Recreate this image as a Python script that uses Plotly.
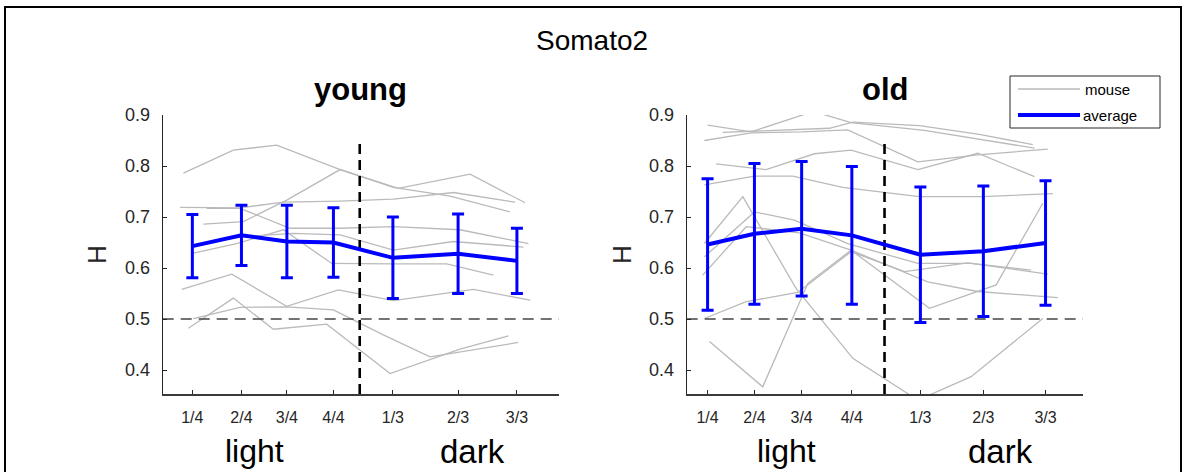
import plotly.graph_objects as go

W, H = 1186, 472

# ---------------- data ----------------
tick_labels = ["1/4", "2/4", "3/4", "4/4", "1/3", "2/3", "3/3"]
young_ticks = [1.5, 4.58, 7.43, 10.35, 14.08, 18.17, 21.86]
old_ticks = [0.95, 3.89, 6.85, 10.0, 14.3, 18.25, 22.15]
light_dark_boundary = [12.0, 12.05]

young_mean = [0.643, 0.664, 0.652, 0.650, 0.620, 0.628, 0.614]
young_err = [0.062, 0.059, 0.071, 0.068, 0.080, 0.078, 0.064]
old_mean = [0.646, 0.667, 0.677, 0.664, 0.626, 0.633, 0.649]
old_err = [0.129, 0.138, 0.132, 0.135, 0.133, 0.128, 0.122]

young_mouse_x = [
    [0.94, 4.07, 6.79, 10.77, 14.42, 18.92, 22.37],
    [2.19, 4.70, 7.42, 10.77, 14.11, 17.67, 21.43],
    [0.73, 4.49, 7.21, 10.77, 14.11, 17.88, 21.74],
    [2.40, 4.49, 7.63, 10.77, 14.11, 18.29, 22.58],
    [1.56, 4.49, 7.84, 10.77, 14.11, 17.88, 22.27],
    [1.56, 4.28, 7.21, 10.24, 13.90, 17.46, 20.38],
    [0.83, 3.97, 7.42, 10.66, 14.11, 19.13, 22.69],
    [1.25, 4.07, 6.58, 9.93, 13.90, 18.29, 21.33],
    [1.56, 4.49, 7.42, 10.35, 13.48, 16.41, 21.95],
]
young_mouse_h = [
    [0.786, 0.831, 0.841, 0.793, 0.756, 0.784, 0.728],
    [0.686, 0.691, 0.733, 0.793, 0.758, 0.741, 0.710],
    [0.719, 0.718, 0.729, 0.731, 0.735, 0.748, 0.729],
    [0.717, 0.717, 0.678, 0.678, 0.681, 0.675, 0.648],
    [0.645, 0.661, 0.668, 0.665, 0.635, 0.652, 0.641],
    [0.629, 0.648, 0.675, 0.609, 0.608, 0.608, 0.586],
    [0.558, 0.588, 0.525, 0.557, 0.536, 0.558, 0.537],
    [0.482, 0.541, 0.480, 0.490, 0.393, 0.441, 0.467],
    [0.501, 0.523, 0.524, 0.518, 0.469, 0.426, 0.454],
]

old_mouse_x = [
    [0.96, 3.68, 7.59, 9.95, 14.55, 18.53, 21.46],
    [0.75, 3.68, 6.82, 9.74, 14.14, 17.90, 22.29],
    [1.90, 5.46, 8.59, 10.06, 14.24, 18.00, 21.35],
    [1.48, 4.62, 7.65, 9.95, 14.14, 17.90, 21.46],
    [0.75, 3.89, 6.29, 9.43, 14.24, 18.21, 22.61],
    [0.75, 3.16, 6.50, 10.06, 14.14, 17.48, 21.98],
    [1.07, 4.41, 7.24, 9.95, 14.87, 19.05, 21.98],
    [0.75, 3.37, 6.61, 9.95, 13.30, 17.27, 22.29],
    [0.75, 3.89, 6.40, 9.74, 14.14, 17.48, 21.25],
    [0.65, 3.37, 6.71, 9.95, 14.76, 17.90, 22.92],
]
old_mouse_h = [
    [0.880, 0.867, 0.907, 0.885, 0.870, 0.850, 0.835],
    [0.850, 0.865, 0.867, 0.871, 0.808, 0.822, 0.833],
    [0.866, 0.870, 0.874, 0.886, 0.879, 0.862, 0.842],
    [0.804, 0.793, 0.824, 0.831, 0.793, 0.825, 0.779],
    [0.763, 0.780, 0.780, 0.758, 0.740, 0.740, 0.746],
    [0.648, 0.740, 0.560, 0.423, 0.341, 0.387, 0.501],
    [0.456, 0.367, 0.570, 0.635, 0.521, 0.567, 0.727],
    [0.501, 0.534, 0.552, 0.632, 0.593, 0.610, 0.588],
    [0.622, 0.710, 0.694, 0.648, 0.609, 0.609, 0.596],
    [0.586, 0.681, 0.669, 0.635, 0.573, 0.554, 0.542],
]

chance_level = 0.5
y_ticks = [0.4, 0.5, 0.6, 0.7, 0.8, 0.9]

# ---------------- layout helpers ----------------
def px(x):
    return x / W

def py(y):
    return 1 - y / H

FONT = "Liberation Sans, Arial, Helvetica, sans-serif"
AX = "#262626"
GRAY = "#bababa"
BLUE = "#0000ff"

XR = [-0.36, 24.5]
YR = [0.353, 0.9]

fig = go.Figure()

panels = [
    ("x", "y", young_mouse_x, young_mouse_h, young_ticks, young_mean, young_err, light_dark_boundary[0]),
    ("x2", "y2", old_mouse_x, old_mouse_h, old_ticks, old_mean, old_err, light_dark_boundary[1]),
]

for xa, ya, mx, mh, ticks, mean, err, bnd in panels:
    for xs, hs in zip(mx, mh):
        fig.add_trace(go.Scatter(x=xs, y=hs, mode="lines", xaxis=xa, yaxis=ya,
                                 line=dict(color=GRAY, width=1.3),
                                 showlegend=False, hoverinfo="skip"))
    fig.add_trace(go.Scatter(x=XR, y=[chance_level, chance_level], mode="lines",
                             xaxis=xa, yaxis=ya,
                             line=dict(color="#454545", width=1.6, dash="11px,7px"),
                             showlegend=False, hoverinfo="skip"))
    fig.add_trace(go.Scatter(x=[bnd, bnd], y=[YR[0], 0.85], mode="lines",
                             xaxis=xa, yaxis=ya,
                             line=dict(color="black", width=2.6, dash="10px,6px"),
                             showlegend=False, hoverinfo="skip"))
    fig.add_trace(go.Scatter(x=ticks, y=mean, mode="lines", xaxis=xa, yaxis=ya,
                             line=dict(color=BLUE, width=4),
                             error_y=dict(type="data", array=err, color=BLUE,
                                          thickness=3, width=6),
                             showlegend=False, hoverinfo="skip"))

def xaxis_cfg(domain, ticks, anchor):
    return dict(domain=domain, range=XR, anchor=anchor, showgrid=False, zeroline=False,
                automargin=False,
                showline=True, linecolor="#3a3a3a", linewidth=1.5,
                ticks="inside", ticklen=4, tickcolor=AX, tickwidth=1,
                tickvals=ticks, ticktext=tick_labels, ticklabelstandoff=8,
                tickfont=dict(family=FONT, size=16, color=AX))

def yaxis_cfg(anchor):
    return dict(domain=[py(394), py(115)], range=YR, anchor=anchor, showgrid=False,
                zeroline=False, automargin=False, showline=True, linecolor=AX, linewidth=1,
                ticks="inside", ticklen=4, tickcolor=AX, tickwidth=1,
                tickvals=y_ticks, ticktext=[f"{v:.1f}" for v in y_ticks],
                ticklabelstandoff=8,
                tickfont=dict(family=FONT, size=18, color=AX))

annotations = []
def txt(x, y, s, size, bold=False, angle=0, color="black"):
    annotations.append(dict(xref="paper", yref="paper", x=px(x), y=py(y), text=(f"<b>{s}</b>" if bold else s),
                            showarrow=False, xanchor="center", yanchor="middle", textangle=angle,
                            font=dict(family=FONT, size=size, color=color)))

txt(592, 40, "Somato2", 28)
txt(360, 90, "young", 31, bold=True)
txt(885, 90, "old", 31, bold=True)
txt(97, 255, "H", 26, angle=-90, color=AX)
txt(622, 255, "H", 26, angle=-90, color=AX)
txt(254, 451, "light", 32)
txt(472, 451, "dark", 33)
txt(786, 451, "light", 32)
txt(1000, 451, "dark", 33)

# legend (manual)
annotations.append(dict(xref="paper", yref="paper", x=px(1083), y=py(89), text="mouse", showarrow=False,
                        xanchor="left", yanchor="middle", font=dict(family=FONT, size=15, color="black")))
annotations.append(dict(xref="paper", yref="paper", x=px(1081), y=py(115), text="average", showarrow=False,
                        xanchor="left", yanchor="middle", font=dict(family=FONT, size=15, color="black")))

shapes = [
    dict(type="rect", xref="paper", yref="paper", x0=px(5), x1=px(1181), y0=py(490), y1=py(7),
         line=dict(color="black", width=2), fillcolor="rgba(0,0,0,0)"),
    dict(type="rect", xref="paper", yref="paper", x0=px(1010), x1=px(1160), y0=py(128), y1=py(76),
         line=dict(color="#262626", width=1), fillcolor="white"),
    dict(type="line", xref="paper", yref="paper", x0=px(1018), x1=px(1080), y0=py(89), y1=py(89),
         line=dict(color=GRAY, width=1.3)),
    dict(type="line", xref="paper", yref="paper", x0=px(1018), x1=px(1080), y0=py(115), y1=py(115),
         line=dict(color=BLUE, width=4)),
]

fig.update_layout(
    width=W, height=H, margin=dict(l=0, r=0, t=0, b=0, pad=0, autoexpand=False),
    paper_bgcolor="white", plot_bgcolor="white", showlegend=False,
    xaxis=xaxis_cfg([px(162.7), px(559)], young_ticks, "y"),
    yaxis=yaxis_cfg("x"),
    xaxis2=xaxis_cfg([px(686.7), px(1083)], old_ticks, "y2"),
    yaxis2=yaxis_cfg("x2"),
    annotations=annotations, shapes=shapes,
)

fig.write_html("out.html")
